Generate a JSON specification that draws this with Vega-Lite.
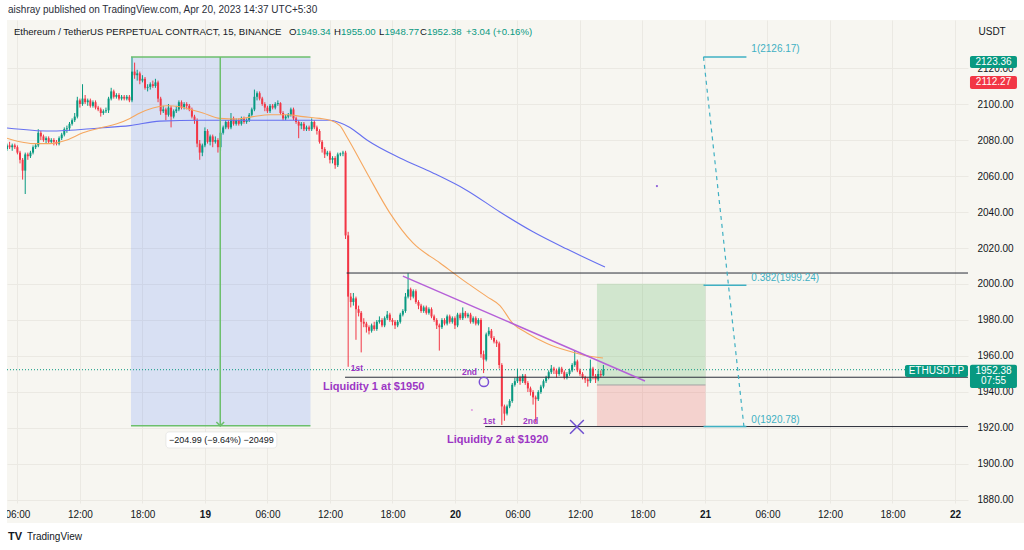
{
  "$schema": "https://vega.github.io/schema/vega-lite/v6.json",
  "width": 961,
  "height": 483,
  "autosize": "none",
  "padding": {"left": 7, "top": 20, "right": 56, "bottom": 47},
  "background": "#f7f6f1",
  "config": {"font": "Liberation Sans", "view": {"stroke": null}},
  "resolve": {"scale": {"color": "independent"}},
  "datasets": {
    "candles": [
      {"t":-19,"o":2075,"hi":2078,"lo":2074,"c":2077},
      {"t":-18.75,"o":2077,"hi":2079,"lo":2075,"c":2076},
      {"t":-18.5,"o":2076,"hi":2078,"lo":2074,"c":2077},
      {"t":-18.25,"o":2077,"hi":2078,"lo":2075,"c":2076},
      {"t":-18,"o":2076,"hi":2077,"lo":2072,"c":2073},
      {"t":-17.75,"o":2073,"hi":2074,"lo":2067,"c":2069},
      {"t":-17.5,"o":2069,"hi":2070,"lo":2058,"c":2063},
      {"t":-17.25,"o":2063,"hi":2073,"lo":2050,"c":2072},
      {"t":-17,"o":2072,"hi":2073,"lo":2069,"c":2071},
      {"t":-16.75,"o":2071,"hi":2074,"lo":2070,"c":2073},
      {"t":-16.5,"o":2073,"hi":2077,"lo":2072,"c":2076},
      {"t":-16.25,"o":2076,"hi":2078,"lo":2075,"c":2077},
      {"t":-16,"o":2077,"hi":2086,"lo":2076,"c":2084},
      {"t":-15.75,"o":2084,"hi":2085,"lo":2080,"c":2082},
      {"t":-15.5,"o":2082,"hi":2083,"lo":2079,"c":2080},
      {"t":-15.25,"o":2080,"hi":2082,"lo":2078,"c":2081},
      {"t":-15,"o":2081,"hi":2082,"lo":2078,"c":2079},
      {"t":-14.75,"o":2079,"hi":2081,"lo":2078,"c":2080},
      {"t":-14.5,"o":2080,"hi":2081,"lo":2077,"c":2079},
      {"t":-14.25,"o":2079,"hi":2080,"lo":2077,"c":2078},
      {"t":-14,"o":2078,"hi":2082,"lo":2077,"c":2081},
      {"t":-13.75,"o":2081,"hi":2084,"lo":2080,"c":2083},
      {"t":-13.5,"o":2083,"hi":2087,"lo":2082,"c":2086},
      {"t":-13.25,"o":2086,"hi":2088,"lo":2084,"c":2086.5},
      {"t":-13,"o":2086.5,"hi":2090,"lo":2085,"c":2089},
      {"t":-12.75,"o":2089,"hi":2092,"lo":2088,"c":2091},
      {"t":-12.5,"o":2091,"hi":2095,"lo":2090,"c":2093},
      {"t":-12.25,"o":2093,"hi":2104,"lo":2092,"c":2102},
      {"t":-12,"o":2102,"hi":2103,"lo":2098,"c":2100},
      {"t":-11.75,"o":2100,"hi":2111,"lo":2099,"c":2103},
      {"t":-11.5,"o":2103,"hi":2105,"lo":2100,"c":2101},
      {"t":-11.25,"o":2101,"hi":2103,"lo":2099,"c":2102},
      {"t":-11,"o":2102,"hi":2103,"lo":2098,"c":2099},
      {"t":-10.75,"o":2099,"hi":2102,"lo":2098,"c":2101},
      {"t":-10.5,"o":2101,"hi":2102,"lo":2097,"c":2098},
      {"t":-10.25,"o":2098,"hi":2099,"lo":2096,"c":2097},
      {"t":-10,"o":2097,"hi":2098,"lo":2093,"c":2095},
      {"t":-9.75,"o":2095,"hi":2097,"lo":2094,"c":2096},
      {"t":-9.5,"o":2096,"hi":2098,"lo":2095,"c":2096.5},
      {"t":-9.25,"o":2096.5,"hi":2104,"lo":2095,"c":2103},
      {"t":-9,"o":2103,"hi":2109,"lo":2102,"c":2107},
      {"t":-8.75,"o":2107,"hi":2108,"lo":2103,"c":2104},
      {"t":-8.5,"o":2104,"hi":2106,"lo":2103,"c":2105},
      {"t":-8.25,"o":2105,"hi":2106,"lo":2102,"c":2103},
      {"t":-8,"o":2103,"hi":2105,"lo":2102,"c":2104},
      {"t":-7.75,"o":2104,"hi":2105,"lo":2102,"c":2103},
      {"t":-7.5,"o":2103,"hi":2105,"lo":2102,"c":2104},
      {"t":-7.25,"o":2104,"hi":2105,"lo":2101,"c":2102},
      {"t":-7,"o":2102,"hi":2126.17,"lo":2101,"c":2118},
      {"t":-6.75,"o":2118,"hi":2123,"lo":2114,"c":2116},
      {"t":-6.5,"o":2116,"hi":2119,"lo":2113,"c":2117},
      {"t":-6.25,"o":2117,"hi":2118,"lo":2111,"c":2113},
      {"t":-6,"o":2113,"hi":2116,"lo":2112,"c":2114},
      {"t":-5.75,"o":2114,"hi":2115,"lo":2108,"c":2109},
      {"t":-5.5,"o":2109,"hi":2111,"lo":2107,"c":2109.5},
      {"t":-5.25,"o":2109.5,"hi":2112,"lo":2108,"c":2111},
      {"t":-5,"o":2111,"hi":2113,"lo":2109,"c":2110},
      {"t":-4.75,"o":2110,"hi":2114,"lo":2109,"c":2112},
      {"t":-4.5,"o":2112,"hi":2113,"lo":2101,"c":2103},
      {"t":-4.25,"o":2103,"hi":2104,"lo":2094,"c":2096},
      {"t":-4,"o":2096,"hi":2099,"lo":2095,"c":2097},
      {"t":-3.75,"o":2097,"hi":2098,"lo":2091,"c":2094},
      {"t":-3.5,"o":2094,"hi":2100,"lo":2093,"c":2098},
      {"t":-3.25,"o":2098,"hi":2099,"lo":2087,"c":2093},
      {"t":-3,"o":2093,"hi":2097,"lo":2092,"c":2096},
      {"t":-2.75,"o":2096,"hi":2099,"lo":2095,"c":2097},
      {"t":-2.5,"o":2097,"hi":2102,"lo":2096,"c":2101},
      {"t":-2.25,"o":2101,"hi":2102,"lo":2097,"c":2098},
      {"t":-2,"o":2098,"hi":2101,"lo":2097,"c":2100},
      {"t":-1.75,"o":2100,"hi":2101,"lo":2097,"c":2099},
      {"t":-1.5,"o":2099,"hi":2100,"lo":2096,"c":2097},
      {"t":-1.25,"o":2097,"hi":2098,"lo":2092,"c":2093},
      {"t":-1,"o":2093,"hi":2094,"lo":2089,"c":2091},
      {"t":-0.75,"o":2091,"hi":2092,"lo":2076,"c":2078},
      {"t":-0.5,"o":2078,"hi":2080,"lo":2069,"c":2073},
      {"t":-0.25,"o":2073,"hi":2078,"lo":2071,"c":2077},
      {"t":0,"o":2077,"hi":2087,"lo":2076,"c":2085},
      {"t":0.25,"o":2085,"hi":2086,"lo":2078,"c":2079},
      {"t":0.5,"o":2079,"hi":2083,"lo":2077,"c":2082},
      {"t":0.75,"o":2082,"hi":2083,"lo":2076,"c":2079},
      {"t":1,"o":2079,"hi":2082,"lo":2078,"c":2080},
      {"t":1.25,"o":2080,"hi":2081,"lo":2073,"c":2076},
      {"t":1.5,"o":2076,"hi":2085,"lo":2074,"c":2084},
      {"t":1.75,"o":2084,"hi":2088,"lo":2083,"c":2087},
      {"t":2,"o":2087,"hi":2091,"lo":2086,"c":2090},
      {"t":2.25,"o":2090,"hi":2091,"lo":2086,"c":2087},
      {"t":2.5,"o":2087,"hi":2095,"lo":2086,"c":2092},
      {"t":2.75,"o":2092,"hi":2093,"lo":2088,"c":2089},
      {"t":3,"o":2089,"hi":2092,"lo":2088,"c":2091},
      {"t":3.25,"o":2091,"hi":2092,"lo":2088,"c":2089},
      {"t":3.5,"o":2089,"hi":2093,"lo":2088,"c":2092},
      {"t":3.75,"o":2092,"hi":2093,"lo":2089,"c":2090},
      {"t":4,"o":2090,"hi":2092,"lo":2089,"c":2091},
      {"t":4.25,"o":2091,"hi":2095,"lo":2090,"c":2094},
      {"t":4.5,"o":2094,"hi":2098,"lo":2093,"c":2097},
      {"t":4.75,"o":2097,"hi":2108,"lo":2096,"c":2104},
      {"t":5,"o":2104,"hi":2107,"lo":2102,"c":2106},
      {"t":5.25,"o":2106,"hi":2107,"lo":2102,"c":2103},
      {"t":5.5,"o":2103,"hi":2104,"lo":2099,"c":2100},
      {"t":5.75,"o":2100,"hi":2101,"lo":2096,"c":2098},
      {"t":6,"o":2098,"hi":2099,"lo":2095,"c":2096},
      {"t":6.25,"o":2096,"hi":2100,"lo":2095,"c":2099},
      {"t":6.5,"o":2099,"hi":2100,"lo":2097,"c":2098},
      {"t":6.75,"o":2098,"hi":2101,"lo":2097,"c":2100},
      {"t":7,"o":2100,"hi":2102,"lo":2099,"c":2100.5},
      {"t":7.25,"o":2100.5,"hi":2101,"lo":2094,"c":2095},
      {"t":7.5,"o":2095,"hi":2096,"lo":2091,"c":2092},
      {"t":7.75,"o":2092,"hi":2094,"lo":2091,"c":2093},
      {"t":8,"o":2093,"hi":2095,"lo":2092,"c":2094},
      {"t":8.25,"o":2094,"hi":2098,"lo":2093,"c":2097},
      {"t":8.5,"o":2097,"hi":2098,"lo":2091,"c":2092},
      {"t":8.75,"o":2092,"hi":2093,"lo":2089,"c":2090},
      {"t":9,"o":2090,"hi":2091,"lo":2081,"c":2088},
      {"t":9.25,"o":2088,"hi":2090,"lo":2086,"c":2089},
      {"t":9.5,"o":2089,"hi":2090,"lo":2085,"c":2086},
      {"t":9.75,"o":2086,"hi":2088,"lo":2085,"c":2087},
      {"t":10,"o":2087,"hi":2088,"lo":2085,"c":2086},
      {"t":10.25,"o":2086,"hi":2092,"lo":2085,"c":2090},
      {"t":10.5,"o":2090,"hi":2091,"lo":2086,"c":2087},
      {"t":10.75,"o":2087,"hi":2088,"lo":2083,"c":2085},
      {"t":11,"o":2085,"hi":2086,"lo":2078,"c":2079},
      {"t":11.25,"o":2079,"hi":2080,"lo":2073,"c":2075},
      {"t":11.5,"o":2075,"hi":2076,"lo":2070,"c":2072},
      {"t":11.75,"o":2072,"hi":2074,"lo":2071,"c":2073},
      {"t":12,"o":2073,"hi":2074,"lo":2067,"c":2069},
      {"t":12.25,"o":2069,"hi":2071,"lo":2067,"c":2070},
      {"t":12.5,"o":2070,"hi":2071,"lo":2064,"c":2066},
      {"t":12.75,"o":2066,"hi":2073,"lo":2065,"c":2072},
      {"t":13,"o":2072,"hi":2073,"lo":2071,"c":2072.5},
      {"t":13.25,"o":2072.5,"hi":2074,"lo":2071,"c":2073},
      {"t":13.5,"o":2073,"hi":2074,"lo":2025,"c":2027},
      {"t":13.75,"o":2027,"hi":2029,"lo":1954,"c":1993},
      {"t":14,"o":1993,"hi":1995,"lo":1987,"c":1990},
      {"t":14.25,"o":1990,"hi":1995,"lo":1988,"c":1992},
      {"t":14.5,"o":1992,"hi":1993,"lo":1969,"c":1986},
      {"t":14.75,"o":1986,"hi":1988,"lo":1982,"c":1984},
      {"t":15,"o":1984,"hi":1985,"lo":1962,"c":1979},
      {"t":15.25,"o":1979,"hi":1981,"lo":1976,"c":1978},
      {"t":15.5,"o":1978,"hi":1979,"lo":1973,"c":1976},
      {"t":15.75,"o":1976,"hi":1977,"lo":1972,"c":1974},
      {"t":16,"o":1974,"hi":1978,"lo":1973,"c":1977},
      {"t":16.25,"o":1977,"hi":1979,"lo":1974,"c":1975},
      {"t":16.5,"o":1975,"hi":1980,"lo":1974,"c":1979},
      {"t":16.75,"o":1979,"hi":1982,"lo":1978,"c":1980},
      {"t":17,"o":1980,"hi":1981,"lo":1976,"c":1977},
      {"t":17.25,"o":1977,"hi":1982,"lo":1976,"c":1981},
      {"t":17.5,"o":1981,"hi":1985,"lo":1980,"c":1983},
      {"t":17.75,"o":1983,"hi":1984,"lo":1979,"c":1980},
      {"t":18,"o":1980,"hi":1981,"lo":1977,"c":1979},
      {"t":18.25,"o":1979,"hi":1980,"lo":1975,"c":1977},
      {"t":18.5,"o":1977,"hi":1980,"lo":1976,"c":1979},
      {"t":18.75,"o":1979,"hi":1984,"lo":1978,"c":1983},
      {"t":19,"o":1983,"hi":1986,"lo":1982,"c":1985},
      {"t":19.25,"o":1985,"hi":1995,"lo":1984,"c":1993},
      {"t":19.5,"o":1993,"hi":2006,"lo":1992,"c":1997},
      {"t":19.75,"o":1997,"hi":1998,"lo":1991,"c":1993},
      {"t":20,"o":1993,"hi":1997,"lo":1992,"c":1996},
      {"t":20.25,"o":1996,"hi":1997,"lo":1989,"c":1990},
      {"t":20.5,"o":1990,"hi":1991,"lo":1986,"c":1988},
      {"t":20.75,"o":1988,"hi":1989,"lo":1984,"c":1985},
      {"t":21,"o":1985,"hi":1988,"lo":1984,"c":1987},
      {"t":21.25,"o":1987,"hi":1988,"lo":1983,"c":1984},
      {"t":21.5,"o":1984,"hi":1987,"lo":1983,"c":1986},
      {"t":21.75,"o":1986,"hi":1987,"lo":1981,"c":1982},
      {"t":22,"o":1982,"hi":1983,"lo":1979,"c":1980},
      {"t":22.25,"o":1980,"hi":1981,"lo":1975,"c":1977},
      {"t":22.5,"o":1977,"hi":1978,"lo":1963,"c":1976},
      {"t":22.75,"o":1976,"hi":1981,"lo":1975,"c":1980},
      {"t":23,"o":1980,"hi":1981,"lo":1977,"c":1978},
      {"t":23.25,"o":1978,"hi":1983,"lo":1977,"c":1982},
      {"t":23.5,"o":1982,"hi":1983,"lo":1978,"c":1979},
      {"t":23.75,"o":1979,"hi":1982,"lo":1978,"c":1981},
      {"t":24,"o":1981,"hi":1982,"lo":1975,"c":1977},
      {"t":24.25,"o":1977,"hi":1984,"lo":1976,"c":1983},
      {"t":24.5,"o":1983,"hi":1984,"lo":1980,"c":1981},
      {"t":24.75,"o":1981,"hi":1987,"lo":1980,"c":1984},
      {"t":25,"o":1984,"hi":1985,"lo":1981,"c":1982},
      {"t":25.25,"o":1982,"hi":1984,"lo":1981,"c":1983},
      {"t":25.5,"o":1983,"hi":1984,"lo":1978,"c":1979},
      {"t":25.75,"o":1979,"hi":1982,"lo":1978,"c":1981},
      {"t":26,"o":1981,"hi":1982,"lo":1977,"c":1978},
      {"t":26.25,"o":1978,"hi":1981,"lo":1977,"c":1980},
      {"t":26.5,"o":1980,"hi":1981,"lo":1959,"c":1961},
      {"t":26.75,"o":1961,"hi":1963,"lo":1950.5,"c":1958},
      {"t":27,"o":1958,"hi":1973,"lo":1957,"c":1972},
      {"t":27.25,"o":1972,"hi":1976,"lo":1971,"c":1974},
      {"t":27.5,"o":1974,"hi":1975,"lo":1969,"c":1970},
      {"t":27.75,"o":1970,"hi":1971,"lo":1967,"c":1968},
      {"t":28,"o":1968,"hi":1969,"lo":1965,"c":1967},
      {"t":28.25,"o":1967,"hi":1968,"lo":1953,"c":1955},
      {"t":28.5,"o":1955,"hi":1956,"lo":1921.7,"c":1932},
      {"t":28.75,"o":1932,"hi":1933,"lo":1924,"c":1928},
      {"t":29,"o":1928,"hi":1933,"lo":1927,"c":1932},
      {"t":29.25,"o":1932,"hi":1936,"lo":1931,"c":1935},
      {"t":29.5,"o":1935,"hi":1945,"lo":1934,"c":1944},
      {"t":29.75,"o":1944,"hi":1948,"lo":1943,"c":1946},
      {"t":30,"o":1946,"hi":1953,"lo":1945,"c":1948},
      {"t":30.25,"o":1948,"hi":1949,"lo":1944,"c":1946},
      {"t":30.5,"o":1946,"hi":1950,"lo":1945,"c":1949},
      {"t":30.75,"o":1949,"hi":1950,"lo":1944,"c":1945},
      {"t":31,"o":1945,"hi":1946,"lo":1940,"c":1942},
      {"t":31.25,"o":1942,"hi":1943,"lo":1938,"c":1940},
      {"t":31.5,"o":1940,"hi":1941,"lo":1933,"c":1937},
      {"t":31.75,"o":1937,"hi":1938,"lo":1923,"c":1936},
      {"t":32,"o":1936,"hi":1941,"lo":1935,"c":1940},
      {"t":32.25,"o":1940,"hi":1944,"lo":1939,"c":1943},
      {"t":32.5,"o":1943,"hi":1947,"lo":1942,"c":1946},
      {"t":32.75,"o":1946,"hi":1949,"lo":1945,"c":1948},
      {"t":33,"o":1948,"hi":1952,"lo":1947,"c":1951},
      {"t":33.25,"o":1951,"hi":1955,"lo":1950,"c":1953},
      {"t":33.5,"o":1953,"hi":1954,"lo":1950,"c":1952},
      {"t":33.75,"o":1952,"hi":1953,"lo":1948,"c":1950},
      {"t":34,"o":1950,"hi":1954,"lo":1949,"c":1953},
      {"t":34.25,"o":1953,"hi":1954,"lo":1950,"c":1951},
      {"t":34.5,"o":1951,"hi":1952,"lo":1947,"c":1948},
      {"t":34.75,"o":1948,"hi":1951,"lo":1947,"c":1950},
      {"t":35,"o":1950,"hi":1953,"lo":1949,"c":1952},
      {"t":35.25,"o":1952,"hi":1956,"lo":1951,"c":1955},
      {"t":35.5,"o":1955,"hi":1963,"lo":1954,"c":1957},
      {"t":35.75,"o":1957,"hi":1958,"lo":1951,"c":1952},
      {"t":36,"o":1952,"hi":1953,"lo":1949,"c":1950},
      {"t":36.25,"o":1950,"hi":1951,"lo":1947,"c":1948},
      {"t":36.5,"o":1948,"hi":1949,"lo":1945,"c":1947},
      {"t":36.75,"o":1947,"hi":1948,"lo":1943,"c":1946},
      {"t":37,"o":1946,"hi":1958,"lo":1945,"c":1953},
      {"t":37.25,"o":1953,"hi":1954,"lo":1947,"c":1949},
      {"t":37.5,"o":1949,"hi":1950,"lo":1945,"c":1947},
      {"t":37.75,"o":1947,"hi":1952,"lo":1946,"c":1950},
      {"t":38,"o":1950,"hi":1952,"lo":1948,"c":1949.34},
      {"t":38.25,"o":1949.34,"hi":1955,"lo":1948.77,"c":1952.38}
    ],
    "ma": [
      {"t":-19,"p":2086.7,"ma":"ema200"},{"t":-14.88,"p":2085,"ma":"ema200"},{"t":-10.08,"p":2086.7,"ma":"ema200"},
      {"t":-7.2,"p":2088,"ma":"ema200"},{"t":-4.32,"p":2090.5,"ma":"ema200"},{"t":-0.48,"p":2091,"ma":"ema200"},
      {"t":4.32,"p":2091,"ma":"ema200"},{"t":9.12,"p":2091,"ma":"ema200"},{"t":12,"p":2091,"ma":"ema200"},
      {"t":12.96,"p":2089.6,"ma":"ema200"},{"t":13.92,"p":2087,"ma":"ema200"},{"t":15.55,"p":2080,"ma":"ema200"},
      {"t":18.72,"p":2070,"ma":"ema200"},{"t":21.89,"p":2061.7,"ma":"ema200"},{"t":25.15,"p":2052,"ma":"ema200"},
      {"t":28.32,"p":2040,"ma":"ema200"},{"t":31.49,"p":2029,"ma":"ema200"},{"t":34.75,"p":2019.4,"ma":"ema200"},
      {"t":38.4,"p":2009.4,"ma":"ema200"},
      {"t":-19,"p":2081,"ma":"ema50"},{"t":-17.76,"p":2079,"ma":"ema50"},{"t":-16.51,"p":2078,"ma":"ema50"},
      {"t":-14.88,"p":2078,"ma":"ema50"},{"t":-13.25,"p":2080,"ma":"ema50"},{"t":-11.71,"p":2084,"ma":"ema50"},
      {"t":-10.08,"p":2086.7,"ma":"ema50"},{"t":-8.45,"p":2089,"ma":"ema50"},{"t":-7.2,"p":2092,"ma":"ema50"},
      {"t":-6.24,"p":2095,"ma":"ema50"},{"t":-4.99,"p":2097.8,"ma":"ema50"},{"t":-3.65,"p":2099,"ma":"ema50"},
      {"t":-2.4,"p":2098.5,"ma":"ema50"},{"t":-1.44,"p":2097,"ma":"ema50"},{"t":-0.19,"p":2095,"ma":"ema50"},
      {"t":1.44,"p":2092,"ma":"ema50"},{"t":3.07,"p":2091.7,"ma":"ema50"},{"t":4.61,"p":2093,"ma":"ema50"},
      {"t":6.24,"p":2094,"ma":"ema50"},{"t":7.87,"p":2094,"ma":"ema50"},{"t":9.41,"p":2093,"ma":"ema50"},
      {"t":11.04,"p":2092,"ma":"ema50"},{"t":12,"p":2091,"ma":"ema50"},{"t":12.96,"p":2088,"ma":"ema50"},
      {"t":13.63,"p":2081.7,"ma":"ema50"},{"t":15.55,"p":2061.7,"ma":"ema50"},{"t":17.76,"p":2039.4,"ma":"ema50"},
      {"t":19.97,"p":2022.8,"ma":"ema50"},{"t":22.56,"p":2011.7,"ma":"ema50"},{"t":25.15,"p":2000.6,"ma":"ema50"},
      {"t":27.07,"p":1993,"ma":"ema50"},{"t":28.32,"p":1988,"ma":"ema50"},{"t":29.57,"p":1978,"ma":"ema50"},
      {"t":30.91,"p":1972.8,"ma":"ema50"},{"t":32.83,"p":1967,"ma":"ema50"},{"t":34.75,"p":1963,"ma":"ema50"},
      {"t":36.29,"p":1960.6,"ma":"ema50"},{"t":38.21,"p":1958.9,"ma":"ema50"}
    ],
    "strips": [
      {"t":-25,"t2":85,"p":2146.67,"p2":2165},
      {"t":-25,"t2":85,"p":1867.2,"p2":1845},
      {"t":-25,"t2":-19,"p":1845,"p2":2165}
    ],
    "range": [{"t":-7.1,"t2":10.13,"p":2126.17,"p2":1921.18}],
    "rangeLines": [{"t":-7.1,"t2":10.13,"p":2126.17},{"t":-7.1,"t2":10.13,"p":1921.18}],
    "rangeArrow": [{"t":1.47,"p":2126.17,"p2":1921.18}],
    "rangeTip": [{"t":1.47,"p":1921.18}],
    "rangeBox": [{"t":-3.74,"t2":6.9,"p":1917.8,"p2":1908.9}],
    "rangeText": [{"t":1.58,"p":1913.4,"label":"−204.99 (−9.64%) −20499"}],
    "position": [
      {"t":37.63,"t2":48.05,"p":2000.2,"p2":1943.9,"side":"profit"},
      {"t":37.63,"t2":48.05,"p":1943.9,"p2":1920.5,"side":"stop"}
    ],
    "entry": [{"t":37.63,"t2":48.05,"p":1943.9}],
    "hlines": [
      {"t":13.6,"t2":73.25,"p":2006.1},
      {"t":13.45,"t2":73.25,"p":1948.2},
      {"t":26.9,"t2":73.25,"p":1920.8}
    ],
    "lastPrice": [{"t":-19,"t2":67.2,"p":1952.38}],
    "trend": [{"t":19.0,"p":2004.4,"t2":42.24,"p2":1946.1}],
    "fibDiag": [{"t":47.86,"p":2126.17,"t2":51.74,"p2":1920.78}],
    "fibLevels": [
      {"t":47.86,"t2":51.98,"p":2126.17},
      {"t":47.86,"t2":51.98,"p":1999.24},
      {"t":47.86,"t2":51.98,"p":1920.78}
    ],
    "fibLabels": [
      {"t":52.45,"p":2130.6,"label":"1(2126.17)"},
      {"t":52.45,"p":2003.3,"label":"0.382(1999.24)"},
      {"t":52.45,"p":1924.4,"label":"0(1920.78)"}
    ],
    "smallNotes": [
      {"t":14.0,"p":1953.3,"label":"1st"},
      {"t":24.67,"p":1951.1,"label":"2nd"},
      {"t":26.69,"p":1923.9,"label":"1st"},
      {"t":30.53,"p":1923.9,"label":"2nd"}
    ],
    "bigNotes": [
      {"t":11.33,"p":1942.8,"label":"Liquidity 1 at $1950"},
      {"t":23.23,"p":1913.3,"label":"Liquidity 2 at $1920"}
    ],
    "ring": [{"t":26.78,"p":1945.6}],
    "cross": [{"t":35.71,"p":1920.6}],
    "dots": [{"t":43.39,"p":2054.4,"dot":"a"},{"t":25.63,"p":1930,"dot":"b"}],
    "tags": [
      {"t":73.44,"t2":77.95,"p":2126.67,"p2":2120,"tag":"up"},
      {"t":73.44,"t2":77.95,"p":2115.56,"p2":2108.33,"tag":"down"},
      {"t":67.2,"t2":73.25,"p":1955,"p2":1948.33,"tag":"up"},
      {"t":73.44,"t2":77.95,"p":1955.2,"p2":1942.2,"tag":"up"}
    ],
    "tagText": [
      {"t":75.7,"p":2123.36,"label":"2123.36"},
      {"t":75.7,"p":2112.0,"label":"2112.27"},
      {"t":70.22,"p":1951.7,"label":"ETHUSDT.P"},
      {"t":75.7,"p":1951.9,"label":"1952.38"},
      {"t":75.7,"p":1945.9,"label":"07:55"}
    ],
    "header": [{"t":-18.9,"p":2152.2,"label":"aishray published on TradingView.com, Apr 20, 2023 14:37 UTC+5:30"}],
    "legendDark": [
      {"t":-18.34,"p":2140,"label":"Ethereum / TetherUS PERPETUAL CONTRACT, 15, BINANCE"},
      {"t":8.06,"p":2140,"label":"O"},
      {"t":12.38,"p":2140,"label":"H"},
      {"t":16.7,"p":2140,"label":"L"},
      {"t":20.64,"p":2140,"label":"C"}
    ],
    "legendGreen": [
      {"t":8.74,"p":2140,"label":"1949.34"},
      {"t":13.06,"p":2140,"label":"1955.00"},
      {"t":17.23,"p":2140,"label":"1948.77"},
      {"t":21.31,"p":2140,"label":"1952.38"},
      {"t":25.06,"p":2140,"label":"+3.04 (+0.16%)"}
    ],
    "logo": [{"t":-18.9,"p":1859.4,"label":"TV"}],
    "brand": [{"t":-17.09,"p":1859.4,"label":"TradingView"}]
  },
  "encoding": {
    "x": {
      "field": "t",
      "type": "quantitative",
      "scale": {"domain": [-19, 73.25], "nice": false, "zero": false, "padding": 0},
      "axis": {
        "values": [-18, -12, -6, 0, 6, 12, 18, 24, 30, 36, 42, 48, 54, 60, 66, 72],
        "labelExpr": "datum.value % 24 === 0 ? '' + (19 + datum.value / 24) : ((((datum.value % 24) + 24) % 24) < 10 ? '0' : '') + (((datum.value % 24) + 24) % 24) + ':00'",
        "labelFontWeight": {"condition": {"test": "datum.value % 24 === 0", "value": "bold"}, "value": "normal"},
        "grid": true,
        "gridColor": "#ebe9e3",
        "ticks": false,
        "domain": false,
        "labelPadding": 6,
        "labelFontSize": 10,
        "labelColor": "#131722",
        "labelOverlap": false,
        "labelFlush": false,
        "title": null
      }
    },
    "y": {
      "field": "p",
      "type": "quantitative",
      "scale": {"domain": [1878.33, 2146.67], "nice": false, "zero": false, "padding": 0},
      "axis": {
        "orient": "right",
        "values": [1880, 1900, 1920, 1940, 1960, 1980, 2000, 2020, 2040, 2060, 2080, 2100, 2120],
        "format": ".2f",
        "grid": true,
        "gridColor": "#ebe9e3",
        "ticks": false,
        "domain": false,
        "labelPadding": 9,
        "labelAlign": "left",
        "labelFontSize": 10,
        "labelColor": "#131722",
        "labelOverlap": false,
        "labelFlush": false,
        "title": "USDT",
        "titleAngle": 0,
        "titleX": 10,
        "titleY": 11,
        "titleAlign": "left",
        "titleBaseline": "middle",
        "titleFontWeight": "normal",
        "titleFontSize": 10,
        "titleColor": "#131722"
      }
    }
  },
  "layer": [
    {
      "data": {"name": "strips"},
      "mark": {"type": "rect", "color": "white"},
      "encoding": {"x2": {"field": "t2"}, "y2": {"field": "p2"}}
    },
    {
      "data": {"name": "range"},
      "mark": {"type": "rect", "color": "#2962ff", "opacity": 0.15},
      "encoding": {"x2": {"field": "t2"}, "y2": {"field": "p2"}}
    },
    {
      "data": {"name": "position"},
      "mark": {"type": "rect", "opacity": 0.22},
      "encoding": {
        "x2": {"field": "t2"},
        "y2": {"field": "p2"},
        "color": {"field": "side", "type": "nominal", "scale": {"domain": ["profit", "stop"], "range": ["#4caf50", "#ef5350"]}, "legend": null}
      }
    },
    {
      "data": {"name": "entry"},
      "mark": {"type": "rule", "color": "#a3a3a3", "strokeWidth": 1},
      "encoding": {"x2": {"field": "t2"}}
    },
    {
      "data": {"name": "lastPrice"},
      "mark": {"type": "rule", "color": "#089981", "strokeWidth": 1, "strokeDash": [1, 2]},
      "encoding": {"x2": {"field": "t2"}}
    },
    {
      "data": {"name": "candles"},
      "mark": {"type": "rule", "strokeWidth": 1, "clip": true},
      "encoding": {
        "y": {"field": "lo", "type": "quantitative", "scale": {"domain": [1878.33, 2146.67], "nice": false, "zero": false, "padding": 0}},
        "y2": {"field": "hi"},
        "color": {"condition": {"test": "datum.c >= datum.o", "value": "#089981"}, "value": "#f23645"}
      }
    },
    {
      "data": {"name": "candles"},
      "mark": {"type": "bar", "width": 2, "clip": true},
      "encoding": {
        "y": {"field": "o", "type": "quantitative", "scale": {"domain": [1878.33, 2146.67], "nice": false, "zero": false, "padding": 0}},
        "y2": {"field": "c"},
        "color": {"condition": {"test": "datum.c >= datum.o", "value": "#089981"}, "value": "#f23645"}
      }
    },
    {
      "data": {"name": "ma"},
      "mark": {"type": "line", "strokeWidth": 1.1, "interpolate": "monotone", "clip": true},
      "encoding": {
        "color": {"field": "ma", "type": "nominal", "scale": {"domain": ["ema50", "ema200"], "range": ["#f6a75f", "#6670f0"]}, "legend": null}
      }
    },
    {
      "data": {"name": "hlines"},
      "mark": {"type": "rule", "color": "#2a2e39", "strokeWidth": 1},
      "encoding": {"x2": {"field": "t2"}}
    },
    {
      "data": {"name": "rangeLines"},
      "mark": {"type": "rule", "color": "#6cbf6c", "strokeWidth": 1.5},
      "encoding": {"x2": {"field": "t2"}}
    },
    {
      "data": {"name": "rangeArrow"},
      "mark": {"type": "rule", "color": "#6cbf6c", "strokeWidth": 1.5},
      "encoding": {"y2": {"field": "p2"}}
    },
    {
      "data": {"name": "rangeTip"},
      "mark": {"type": "point", "shape": "M-1,-1L0,0L1,-1", "size": 60, "filled": false, "color": "#6cbf6c", "strokeWidth": 1.5, "opacity": 1},
      "encoding": {}
    },
    {
      "data": {"name": "rangeBox"},
      "mark": {"type": "rect", "fill": "white", "stroke": "#dedede", "strokeWidth": 0.6, "cornerRadius": 3},
      "encoding": {"x2": {"field": "t2"}, "y2": {"field": "p2"}}
    },
    {
      "data": {"name": "rangeText"},
      "mark": {"type": "text", "align": "center", "baseline": "middle", "fontSize": 9, "color": "#131722"},
      "encoding": {"text": {"field": "label"}}
    },
    {
      "data": {"name": "trend"},
      "mark": {"type": "rule", "color": "#b560d8", "strokeWidth": 1.5},
      "encoding": {"x2": {"field": "t2"}, "y2": {"field": "p2"}}
    },
    {
      "data": {"name": "fibDiag"},
      "mark": {"type": "rule", "color": "#3fb0c3", "strokeWidth": 1.2, "strokeDash": [4, 4]},
      "encoding": {"x2": {"field": "t2"}, "y2": {"field": "p2"}}
    },
    {
      "data": {"name": "fibLevels"},
      "mark": {"type": "rule", "color": "#3fb0c3", "strokeWidth": 1.5},
      "encoding": {"x2": {"field": "t2"}}
    },
    {
      "data": {"name": "fibLabels"},
      "mark": {"type": "text", "align": "left", "baseline": "middle", "fontSize": 10, "color": "#3fb0c3"},
      "encoding": {"text": {"field": "label"}}
    },
    {
      "data": {"name": "smallNotes"},
      "mark": {"type": "text", "align": "left", "baseline": "middle", "fontSize": 8.5, "fontWeight": "bold", "color": "#9c36c4"},
      "encoding": {"text": {"field": "label"}}
    },
    {
      "data": {"name": "bigNotes"},
      "mark": {"type": "text", "align": "left", "baseline": "middle", "fontSize": 11, "fontWeight": "bold", "color": "#9c36c4"},
      "encoding": {"text": {"field": "label"}}
    },
    {
      "data": {"name": "ring"},
      "mark": {"type": "point", "shape": "circle", "size": 85, "filled": false, "color": "#7b4fd6", "strokeWidth": 1.5, "opacity": 1},
      "encoding": {}
    },
    {
      "data": {"name": "cross"},
      "mark": {"type": "point", "shape": "M-1,-1L1,1M1,-1L-1,1", "size": 190, "filled": false, "color": "#6f4fd0", "strokeWidth": 1.5, "opacity": 1},
      "encoding": {}
    },
    {
      "data": {"name": "dots"},
      "mark": {"type": "point", "shape": "circle", "size": 5, "filled": true, "opacity": 1},
      "encoding": {
        "color": {"field": "dot", "type": "nominal", "scale": {"domain": ["a", "b"], "range": ["#8a5cd8", "#e2a0e0"]}, "legend": null}
      }
    },
    {
      "data": {"name": "tags"},
      "mark": {"type": "rect", "cornerRadius": 2},
      "encoding": {
        "x2": {"field": "t2"},
        "y2": {"field": "p2"},
        "color": {"field": "tag", "type": "nominal", "scale": {"domain": ["up", "down"], "range": ["#089981", "#f23645"]}, "legend": null}
      }
    },
    {
      "data": {"name": "tagText"},
      "mark": {"type": "text", "align": "center", "baseline": "middle", "fontSize": 10, "color": "white"},
      "encoding": {"text": {"field": "label"}}
    },
    {
      "data": {"name": "header"},
      "mark": {"type": "text", "align": "left", "baseline": "middle", "fontSize": 10, "color": "#2a2e39"},
      "encoding": {"text": {"field": "label"}}
    },
    {
      "data": {"name": "legendDark"},
      "mark": {"type": "text", "align": "left", "baseline": "middle", "fontSize": 9.6, "color": "#131722"},
      "encoding": {"text": {"field": "label"}}
    },
    {
      "data": {"name": "legendGreen"},
      "mark": {"type": "text", "align": "left", "baseline": "middle", "fontSize": 9.6, "color": "#089981"},
      "encoding": {"text": {"field": "label"}}
    },
    {
      "data": {"name": "logo"},
      "mark": {"type": "text", "align": "left", "baseline": "middle", "fontSize": 11, "fontWeight": 900, "color": "#131722"},
      "encoding": {"text": {"field": "label"}}
    },
    {
      "data": {"name": "brand"},
      "mark": {"type": "text", "align": "left", "baseline": "middle", "fontSize": 10, "color": "#131722"},
      "encoding": {"text": {"field": "label"}}
    }
  ]
}
